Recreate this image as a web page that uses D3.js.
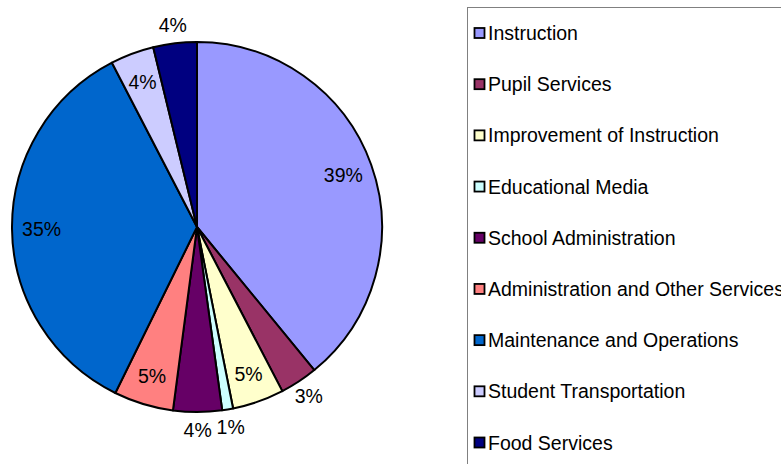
<!DOCTYPE html>
<html>
<head>
<meta charset="UTF-8">
<script src="https://cdn.jsdelivr.net/npm/d3@7"></script>
<style>
  body { margin: 0; background: #fff; }
  svg { display: block; font-family: Arial, "Liberation Sans", sans-serif; }
</style>
</head>
<body>
<div id="chart"></div>
<script>
// data
const categories = ['Instruction', 'Pupil Services', 'Improvement of Instruction', 'Educational Media',
  'School Administration', 'Administration and Other Services', 'Maintenance and Operations',
  'Student Transportation', 'Food Services'];
const values = [39.05, 3.3, 4.5, 0.95, 4.25, 5.2, 35.1, 3.8, 3.8];
const labels = ['39%', '3%', '5%', '1%', '4%', '5%', '35%', '4%', '4%'];
const labelSide = ['in', 'out', 'in', 'out', 'out', 'in', 'in', 'in', 'out'];
const colors = ['#9999FF', '#993366', '#FFFFCC', '#CCFFFF', '#660066', '#FF8080', '#0066CC', '#CCCCFF', '#000080'];

const width = 781, height = 464;
const cx = 197, cy = 227, R = 185;

const svg = d3.select('#chart').append('svg')
  .attr('width', width)
  .attr('height', height);

const pie = d3.pie().sort(null).value(d => d)(values);
const arc = d3.arc().innerRadius(0).outerRadius(R);

const g = svg.append('g').attr('transform', `translate(${cx},${cy})`);

g.selectAll('path')
  .data(pie)
  .enter()
  .append('path')
  .attr('d', arc)
  .attr('fill', (d, i) => colors[i])
  .attr('stroke', '#000')
  .attr('stroke-width', 2)
  .attr('stroke-linejoin', 'round');

// inside labels sit near the rim, outside labels just past it
const inArc = d3.arc().innerRadius(R * 0.84).outerRadius(R * 0.84);
const outArc = d3.arc().innerRadius(R + 18).outerRadius(R + 18);

g.selectAll('text.lbl')
  .data(pie)
  .enter()
  .append('text')
  .attr('class', 'lbl')
  .attr('transform', (d, i) => {
    const p = (labelSide[i] === 'in' ? inArc : outArc).centroid(d);
    return `translate(${p[0]},${p[1]})`;
  })
  .attr('text-anchor', 'middle')
  .attr('dy', '0.36em')
  .style('font-size', '19.5px')
  .attr('fill', '#000')
  .text((d, i) => labels[i]);

// legend
const legend = svg.append('g');
legend.append('rect')
  .attr('x', 467.5)
  .attr('y', 7.5)
  .attr('width', 330)
  .attr('height', 470)
  .attr('fill', '#fff')
  .attr('stroke', '#808080')
  .attr('stroke-width', 1);

const rowY = d3.scalePoint().domain(categories).range([33, 442.5]);

const rows = legend.selectAll('g.row')
  .data(categories)
  .enter()
  .append('g')
  .attr('class', 'row')
  .attr('transform', d => `translate(0,${rowY(d)})`);

rows.append('rect')
  .attr('x', 474.5)
  .attr('y', -5)
  .attr('width', 10)
  .attr('height', 10)
  .attr('fill', (d, i) => colors[i])
  .attr('stroke', '#000')
  .attr('stroke-width', 1.8);

rows.append('text')
  .attr('x', 488)
  .attr('dy', '0.36em')
  .style('font-size', '19.5px')
  .attr('fill', '#000')
  .text(d => d);
</script>
</body>
</html>
